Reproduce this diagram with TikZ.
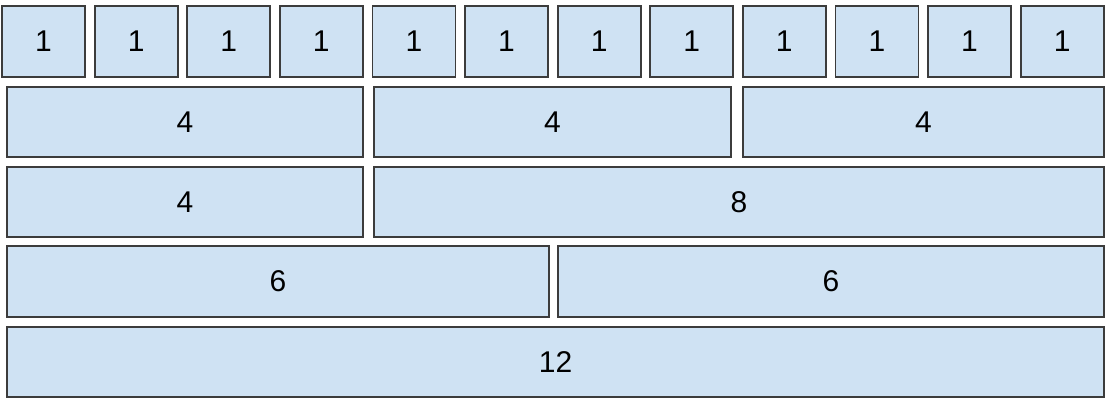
\documentclass[tikz,border=0pt]{standalone}
\usepackage{fontspec}
\setmainfont{Liberation Sans}
\usepackage{xcolor}
\usepackage{tikz}
\usetikzlibrary{positioning}

\definecolor{cellblue}{HTML}{CFE2F3}
\definecolor{edgegray}{HTML}{3C3C3C}

\begin{document}
\begin{tikzpicture}[x=1pt, y=1pt, cell/.style={draw=edgegray, fill=cellblue, line width=1.8pt, inner sep=0pt, outer sep=0pt, minimum height=70pt, minimum width=#1, font=\fontsize{30}{31}\selectfont}]
\useasboundingbox (0,0) rectangle (1110,-401);
% twelve single columns
\node[cell=83pt, minimum height=71pt, anchor=north west] (one1) at (2,-6) {1};
\foreach \i [count=\j from 1] in {2,...,12}
  \node[cell=83pt, minimum height=71pt, right=9.6pt of one\j] (one\i) {1};
% three groups of four
\node[cell=356pt, anchor=north west] (four1) at (7,-87) {4};
\node[cell=357pt, right=11pt of four1] (four2) {4};
\node[cell=361pt, right=12pt of four2] (four3) {4};
% four and eight
\node[cell=356pt, anchor=north west] (left4) at (7,-167) {4};
\node[cell=730pt, right=11pt of left4] (right8) {8};
% two halves
\node[cell=542pt, minimum height=71pt, anchor=north west] (six1) at (7,-246) {6};
\node[cell=546pt, minimum height=71pt, right=9pt of six1] (six2) {6};
% full width
\node[cell=1097pt, anchor=north west] (twelve) at (7,-327) {12};
\end{tikzpicture}
\end{document}
